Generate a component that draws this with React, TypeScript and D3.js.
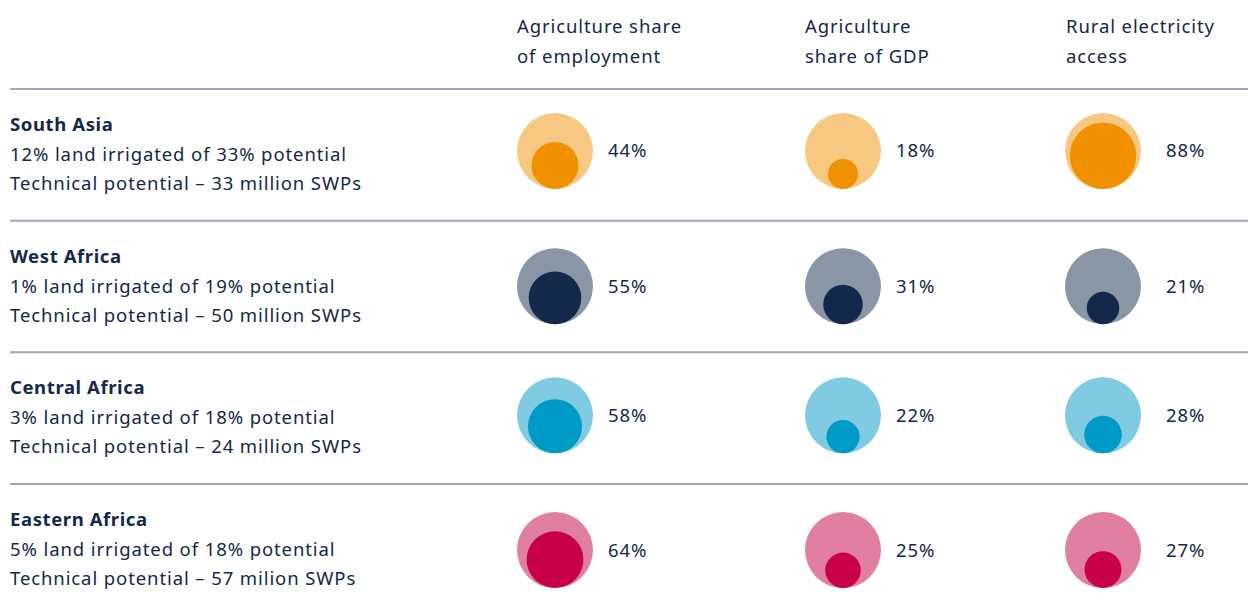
import * as React from "react";
import * as d3 from "d3";

const regions = ["South Asia", "West Africa", "Central Africa", "Eastern Africa"];
const irrigation = [
  "12% land irrigated of 33% potential",
  "1% land irrigated of 19% potential",
  "3% land irrigated of 18% potential",
  "5% land irrigated of 18% potential",
];
const potential = [
  "Technical potential – 33 million SWPs",
  "Technical potential – 50 million SWPs",
  "Technical potential – 24 million SWPs",
  "Technical potential – 57 milion SWPs",
];
const indicators = [
  ["Agriculture share", "of employment"],
  ["Agriculture", "share of GDP"],
  ["Rural electricity", "access"],
];
const employment = [44, 55, 58, 64];
const gdp = [18, 31, 22, 25];
const electricity = [88, 21, 28, 27];
const lightColors = ["#f7c882", "#8a95a5", "#80cae2", "#e07fa1"];
const darkColors = ["#f29100", "#13284a", "#009ac6", "#c70048"];

const width = 1248;
const height = 606;
const ink = "#13284a";
const font = "'Noto Sans', 'Open Sans', sans-serif";

function App() {
  const values = [employment, gdp, electricity];

  const y = d3
    .scaleBand()
    .domain(regions)
    .range([89, 484 + 131.7])
    .paddingInner(0)
    .paddingOuter(0);

  const colX = d3.scaleOrdinal<number, number>().domain([0, 1, 2]).range([555, 843, 1103]);
  const labelX = d3.scaleOrdinal<number, number>().domain([0, 1, 2]).range([608, 896, 1166]);
  const headX = d3.scaleOrdinal<number, number>().domain([0, 1, 2]).range([517, 805, 1066]);

  const outerR = 38;
  const r = d3.scaleSqrt().domain([0, 100]).range([0, 35.5]);
  const rowOffset = [62, 65.5, 63, 66];

  return (
    <svg
      width={width}
      height={height}
      style={{ position: "absolute", left: 0, top: 0, background: "#fff" }}
      fontFamily={font}
      letterSpacing={0.9}
    >
      {indicators.map((lines, j) => (
        <text key={j} x={headX(j)} y={33} fill={ink} fontSize={18.5}>
          {lines.map((l, k) => (
            <tspan key={k} x={headX(j)} dy={k === 0 ? 0 : 30}>
              {l}
            </tspan>
          ))}
        </text>
      ))}

      {regions.map((reg, i) => {
        const top = y(reg) as number;
        const cy = top + rowOffset[i];
        return (
          <g key={reg}>
            <line x1={10} x2={width} y1={top} y2={top} stroke="#a3a6b8" strokeWidth={2} />
            <text x={10} y={top + 42} fill={ink} fontSize={18.5} fontWeight={700} letterSpacing={0.6}>
              {reg}
            </text>
            <text x={10} y={top + 72} fill={ink} fontSize={18.5}>
              {irrigation[i]}
            </text>
            <text x={10} y={top + 101} fill={ink} fontSize={18.5}>
              {potential[i]}
            </text>
            {values.map((vals, j) => {
              const cx = colX(j);
              const ri = r(vals[i]);
              return (
                <g key={j}>
                  <circle cx={cx} cy={cy} r={outerR} fill={lightColors[i]} />
                  <circle cx={cx} cy={cy + outerR - ri} r={ri} fill={darkColors[i]} />
                  <text x={labelX(j)} y={cy} dy="0.35em" fill={ink} fontSize={18.5}>
                    {vals[i]}%
                  </text>
                </g>
              );
            })}
          </g>
        );
      })}
    </svg>
  );
}

export default App;
